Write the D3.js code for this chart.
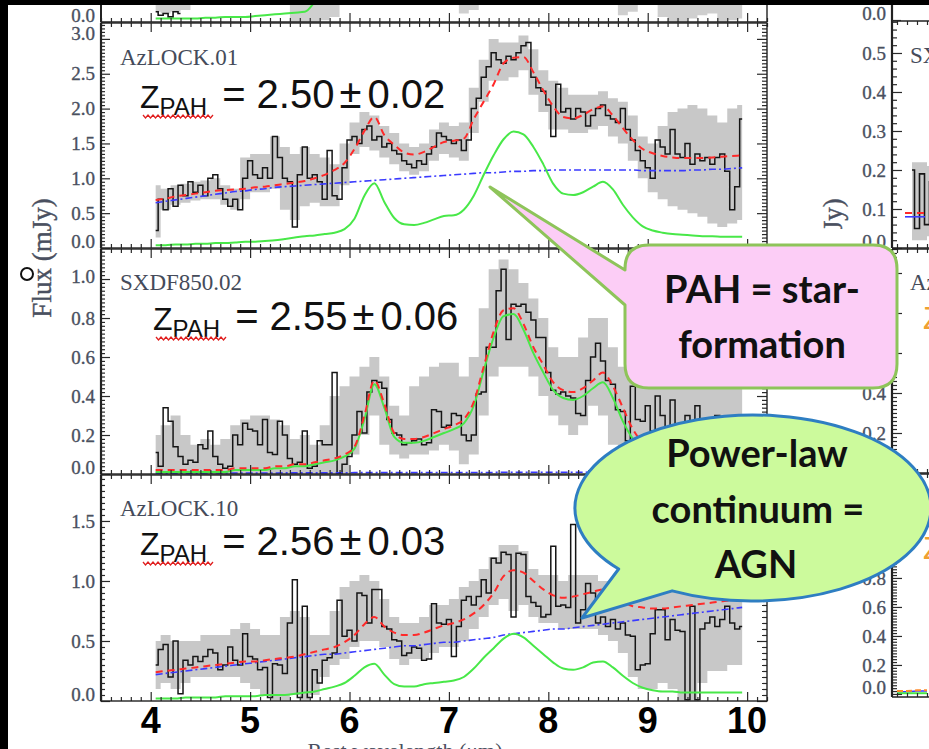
<!DOCTYPE html>
<html><head><meta charset="utf-8">
<script src="https://cdn.jsdelivr.net/npm/d3@7"></script>
<style>
html,body{margin:0;padding:0;background:#000;}
svg{display:block;}
</style></head><body>
<svg id="c" width="929" height="749"></svg>
<script>
// ---------------- DATA ----------------
const xTicks = [4,5,6,7,8,9,10];
const panelNames = ["AzLOCK.01","SXDF850.02","AzLOCK.10"];
const zValues = ["2.50","2.55","2.56"];
const zErrors = ["0.02","0.06","0.03"];
const yTicks1 = [0.0,0.5,1.0,1.5,2.0,2.5,3.0];
const yTicks2 = [0.0,0.2,0.4,0.6,0.8,1.0];
const yTicks3 = [0.0,0.5,1.0,1.5];
const rTicks1 = [0.0,0.1,0.2,0.3,0.4,0.5];
const rTicks2 = [0.0,0.2,0.4,0.6,0.8,1.0];
const rTicks3 = [0.0,0.2,0.4,0.6,0.8,1.0,1.2,1.4];

// observed spectra: bins of 0.05 um starting at 4.05 um
const obsStart = 4.05, obsStep = 0.05;
const obs1 = [0.25,0.7,0.55,0.85,0.6,0.9,0.75,0.95,0.8,0.9,0.75,1.0,1.05,0.85,0.7,0.6,0.7,0.55,1.0,1.25,
1.05,1.0,1.15,1.0,1.6,1.3,1.0,0.95,0.3,1.05,1.45,1.0,1.05,0.95,0.7,1.4,0.75,0.7,1.15,1.55,
1.6,1.5,1.7,1.75,1.55,1.6,1.45,1.5,1.4,1.35,1.25,1.2,1.15,1.25,1.2,1.35,1.45,1.65,1.6,1.55,
1.5,1.55,1.4,1.55,2.0,2.15,2.45,2.6,2.8,2.7,2.65,2.75,2.7,2.8,2.9,2.95,2.45,2.3,2.25,2.05,
1.6,2.35,1.95,2.0,1.85,2.0,1.95,1.75,1.9,2.0,2.05,1.9,1.85,1.8,2.0,1.7,1.55,1.4,1.25,1.15,
1.0,1.55,1.45,1.35,1.7,1.35,1.3,1.5,1.2,1.35,1.25,1.3,1.2,1.3,1.35,1.1,0.55,0.88,1.85];
const obs2 = [0.11,0.04,0.34,0.27,0.14,0.09,0.05,0.07,0.06,0.15,0.13,0.22,0.09,0.05,0.03,0.04,0.2,0.15,0.26,0.23,
0.22,0.15,0.28,0.11,0.1,0.27,0.2,0.08,0.05,0.06,0.22,0.03,0.04,0.17,0.15,0.15,0.52,0.0,0.05,0.09,
0.2,0.32,0.21,0.42,0.48,0.47,0.44,0.28,0.21,0.2,0.15,0.16,0.17,0.18,0.15,0.16,0.33,0.32,0.24,0.25,
0.31,0.3,0.2,0.17,0.2,0.41,0.42,0.65,0.65,0.94,1.05,0.69,0.87,0.86,0.87,0.83,0.79,0.7,0.7,0.52,
0.43,0.41,0.42,0.4,0.39,0.31,0.3,0.48,0.6,0.67,0.58,0.48,0.46,0.33,0.32,0.17,0.45,0.28,0.27,0.35,
0.22,0.4,0.3,0.15,0.38,0.25,0.1,0.3,0.2,0.35,0.15,0.25,0.1,0.3,0.2,0.15,0.28,0.1,0.2];
const obs3 = [0.3,0.43,0.47,0.2,0.5,0.06,0.34,0.3,0.37,0.33,0.37,0.43,0.4,0.26,0.3,0.45,0.34,0.3,0.56,0.37,
0.35,0.26,0.28,0.03,0.31,0.3,0.23,0.65,1.01,0.03,0.79,0.03,0.26,0.15,0.34,0.36,0.4,0.84,0.54,0.59,
0.5,0.9,0.88,0.65,0.93,0.93,0.62,0.6,0.51,0.5,0.38,0.4,0.45,0.44,0.34,0.35,0.81,0.65,0.64,0.68,
0.37,0.62,0.84,0.87,0.8,0.87,1.01,0.9,1.19,1.15,1.24,1.22,0.7,1.23,1.22,0.87,0.82,0.79,0.7,0.72,
1.29,0.79,0.8,0.78,1.47,0.65,0.76,0.98,0.9,0.65,0.7,0.62,0.68,0.6,0.65,0.55,0.54,0.26,0.3,0.31,
0.56,0.76,0.76,0.51,0.68,0.59,0.58,0.01,0.79,0.01,0.6,0.65,0.7,0.62,0.68,0.79,0.65,0.6,0.62];

// model components and error bands: grid of 0.1 um starting at 4.05 um
const modStart = 4.05, modStep = 0.1;
const band1Lo = [0.15,0.55,0.62,0.65,0.68,0.7,0.7,0.62,0.55,0.7,0.8,0.8,0.85,0.55,0.4,0.6,0.65,0.6,0.6,0.9,
1.35,1.45,1.4,1.3,1.2,1.1,1.05,1.1,1.25,1.35,1.3,1.25,1.65,2.1,2.4,2.4,2.45,2.55,2.2,1.95,
1.7,1.7,1.65,1.65,1.7,1.75,1.6,1.5,1.25,1.0,0.8,0.7,0.6,0.55,0.5,0.45,0.35,0.3,0.35,0.4];
const band1Hi = [0.9,0.85,0.9,0.92,0.95,0.97,1.0,0.9,0.85,1.3,1.35,1.35,1.6,1.45,1.35,1.45,1.35,1.3,1.2,1.5,
1.8,1.95,1.9,1.75,1.65,1.5,1.45,1.5,1.7,1.8,1.75,1.8,2.3,2.7,3.0,2.95,2.95,3.05,2.85,2.55,
2.4,2.3,2.2,2.2,2.2,2.25,2.15,2.1,1.9,1.6,1.5,1.75,1.95,2.0,2.05,2.0,1.9,1.8,2.0,2.05];
const model1 = [0.69,0.71,0.74,0.76,0.78,0.8,0.82,0.83,0.84,0.85,0.87,0.88,0.9,0.92,0.94,0.96,1.0,1.05,1.12,1.22,
1.42,1.68,1.88,1.62,1.48,1.37,1.34,1.38,1.45,1.52,1.54,1.57,1.85,2.1,2.35,2.65,2.73,2.74,2.52,2.26,
2.03,1.88,1.86,1.91,1.99,2.03,1.9,1.72,1.55,1.42,1.36,1.32,1.3,1.29,1.29,1.29,1.3,1.31,1.32,1.33];
const cont1 = [0.65,0.67,0.69,0.71,0.73,0.75,0.77,0.79,0.81,0.82,0.84,0.85,0.87,0.88,0.89,0.9,0.91,0.92,0.93,0.94,
0.95,0.96,0.97,0.98,0.99,1.0,1.01,1.02,1.03,1.04,1.05,1.06,1.07,1.08,1.08,1.09,1.1,1.1,1.11,1.11,
1.12,1.12,1.12,1.12,1.12,1.12,1.12,1.12,1.12,1.11,1.11,1.11,1.11,1.11,1.12,1.12,1.13,1.13,1.14,1.15];
const pah1 = [0.04,0.04,0.05,0.05,0.06,0.06,0.07,0.07,0.08,0.09,0.09,0.1,0.11,0.13,0.15,0.17,0.18,0.2,0.22,0.27,
0.42,0.75,0.93,0.66,0.43,0.34,0.33,0.36,0.41,0.46,0.47,0.55,0.75,1.05,1.33,1.56,1.67,1.63,1.45,1.2,
0.92,0.78,0.76,0.8,0.88,0.95,0.84,0.62,0.44,0.31,0.25,0.22,0.2,0.19,0.18,0.17,0.17,0.16,0.16,0.16];

const band2Lo = [0,0,0,0,0,0,0,0,0,0,0,0,0,0,0,0,0,0,0,0,
0.1,0.2,0.3,0.15,0.1,0.08,0.1,0.1,0.12,0.15,0.12,0.05,0.1,0.3,0.5,0.55,0.55,0.55,0.5,0.4,
0.3,0.25,0.2,0.25,0.35,0.3,0.15,0,0,0,0,0,0,0,0,0,0,0,0,0];
const band2Hi = [0.2,0.25,0.3,0.2,0.15,0.18,0.15,0.18,0.25,0.28,0.3,0.3,0.28,0.25,0.18,0.2,0.15,0.25,0.4,0.45,
0.5,0.55,0.6,0.5,0.35,0.3,0.45,0.5,0.55,0.57,0.57,0.5,0.6,0.85,1.05,1.1,1.05,0.98,0.9,0.8,
0.65,0.6,0.6,0.7,0.8,0.8,0.65,0.55,0.6,0.55,0.5,0.55,0.5,0.45,0.5,0.45,0.5,0.45,0.5,0.45];
const model2 = [0.02,0.02,0.02,0.02,0.02,0.02,0.02,0.02,0.03,0.03,0.03,0.03,0.04,0.04,0.05,0.05,0.06,0.07,0.08,0.1,
0.14,0.3,0.48,0.36,0.21,0.18,0.18,0.19,0.21,0.23,0.25,0.28,0.37,0.55,0.73,0.84,0.85,0.77,0.65,0.56,
0.47,0.43,0.42,0.44,0.48,0.52,0.45,0.34,0.23,0.16,0.12,0.09,0.08,0.07,0.06,0.06,0.05,0.05,0.05,0.05];
const cont2 = [0.004,0.004,0.004,0.004,0.004,0.005,0.005,0.005,0.005,0.005,0.005,0.005,0.005,0.006,0.006,0.006,0.006,0.006,0.006,0.006,
0.007,0.007,0.007,0.007,0.007,0.007,0.007,0.008,0.008,0.008,0.008,0.008,0.008,0.008,0.008,0.009,0.009,0.009,0.009,0.009,
0.009,0.009,0.009,0.009,0.01,0.01,0.01,0.01,0.01,0.01,0.01,0.01,0.01,0.01,0.01,0.01,0.01,0.01,0.01,0.01];
const pah2 = [0.01,0.01,0.01,0.01,0.01,0.01,0.01,0.01,0.02,0.02,0.02,0.02,0.03,0.03,0.04,0.04,0.05,0.06,0.07,0.09,
0.13,0.28,0.46,0.34,0.19,0.16,0.16,0.17,0.19,0.21,0.23,0.26,0.35,0.53,0.7,0.81,0.82,0.74,0.62,0.52,
0.43,0.39,0.38,0.4,0.44,0.47,0.39,0.27,0.18,0.12,0.08,0.06,0.05,0.05,0.04,0.04,0.04,0.03,0.03,0.03];

const band3Lo = [0.1,0.15,0.1,0.15,0.2,0.2,0.2,0.2,0.2,0.15,0.1,0.05,0.0,0.0,0.05,0.0,0.05,0.2,0.3,0.35,
0.45,0.5,0.5,0.45,0.35,0.3,0.35,0.35,0.4,0.45,0.45,0.5,0.6,0.7,0.8,0.85,0.75,0.8,0.7,0.65,
0.65,0.6,0.6,0.6,0.6,0.55,0.5,0.4,0.2,0.1,0.1,0.15,0.1,0.0,0.0,0.15,0.25,0.25,0.3,0.3];
const band3Hi = [0.5,0.55,0.5,0.5,0.5,0.55,0.55,0.55,0.6,0.65,0.6,0.55,0.55,0.7,0.75,0.7,0.55,0.55,0.75,0.95,
1.0,1.05,1.0,0.85,0.7,0.65,0.65,0.7,0.8,0.8,0.85,0.95,1.0,1.1,1.2,1.3,1.3,1.25,1.1,1.05,
1.05,1.0,1.05,1.05,1.05,1.0,0.95,0.9,0.9,0.85,0.9,0.95,0.95,0.9,0.9,0.9,0.9,0.9,0.9,0.9];
const model3 = [0.24,0.25,0.26,0.27,0.28,0.29,0.3,0.31,0.32,0.33,0.33,0.34,0.35,0.36,0.37,0.39,0.41,0.43,0.45,0.49,
0.55,0.64,0.7,0.62,0.57,0.55,0.55,0.57,0.6,0.63,0.65,0.68,0.73,0.8,0.9,1.04,1.09,1.07,1.0,0.93,
0.88,0.86,0.87,0.89,0.91,0.93,0.88,0.83,0.79,0.78,0.77,0.77,0.78,0.79,0.8,0.81,0.82,0.83,0.84,0.85];
const cont3 = [0.22,0.23,0.24,0.25,0.26,0.27,0.28,0.29,0.3,0.31,0.32,0.33,0.34,0.35,0.36,0.37,0.38,0.39,0.39,0.4,
0.41,0.42,0.43,0.44,0.45,0.46,0.46,0.47,0.48,0.49,0.49,0.5,0.51,0.52,0.53,0.55,0.56,0.57,0.58,0.59,
0.6,0.6,0.61,0.62,0.63,0.64,0.65,0.66,0.67,0.68,0.69,0.7,0.71,0.72,0.73,0.74,0.75,0.76,0.77,0.78];
const pah3 = [0.02,0.02,0.02,0.03,0.03,0.03,0.03,0.04,0.04,0.04,0.04,0.05,0.05,0.05,0.06,0.07,0.08,0.1,0.12,0.15,
0.21,0.28,0.31,0.22,0.14,0.12,0.12,0.14,0.15,0.16,0.17,0.2,0.27,0.36,0.44,0.52,0.56,0.53,0.46,0.39,
0.32,0.27,0.26,0.28,0.32,0.33,0.28,0.21,0.15,0.11,0.09,0.08,0.08,0.07,0.07,0.07,0.07,0.07,0.07,0.07];

// panel cut off at the top (only its lowest strip is visible)
const topPah = [0.02,0.02,0.02,0.02,0.02,0.025,0.025,0.03,0.03,0.03,0.035,0.04,0.045,0.05,0.055,0.06,0.12];
const topObs = [0.06,0.04,0.05,0.03,0.06,0.05];
const topBandLo = [0.06,0.05,0.06,0.07,0.2,0.2,0.2,0.2,0.2,0.2,0.2,0.2,0.2,0.2,0.0,0.0,0.0,0.01,0.03,0.2,
0.2,0.2,0.2,0.2,0.2,0.2,0.2,0.2,0.2,0.2,0.2,0.05,0.07,0.2,0.2,0.2,0.2,0.2,0.2,0.2,
0.2,0.2,0.2,0.2,0.2,0.2,0.2,0.04,0.06,0.2,0.2,0.03,0.0,0.0,0.02,0.04,0.05,0.0,0.01,0.02];

// right-hand column fragments (neighbouring panels, cut by the frame)
const rTopObs = [0.2,0.05,0.19,0.06,0.17];
const rTopBandLo = [0.02,0.02,0.03];
const rTopBandHi = [0.22,0.22,0.21];
const rTopModel = [0.09,0.09,0.09];
const rTopCont = [0.08,0.08,0.08];
const rBotModel = [0.02,0.02,0.025,0.025];
const rBotCont = [0.015,0.015,0.02,0.02];
const rBotPah = [0.005,0.005,0.005,0.005];

// ---------------- DRAWING ----------------
const W = 929, H = 749;
const svg = d3.select('#c');
const SERIF = "'Liberation Serif','Times New Roman',serif";
const SANS = "'Liberation Sans',Arial,sans-serif";
const LABEL_COL = '#4a5060';
svg.append('rect').attr('x',8).attr('y',5).attr('width',W-8).attr('height',H-5).attr('fill','#fff');

const x = d3.scaleLinear().domain([3.5,10.2]).range([101,767]);
const xMinor = d3.range(35,103,1).map(v=>v/10).filter(v=>!xTicks.includes(v));

const defs = svg.append('defs');
let clipN = 0;
function clip(x0,y0,w,h){
  const id='cl'+(clipN++);
  defs.append('clipPath').attr('id',id).append('rect').attr('x',x0).attr('y',y0).attr('width',w).attr('height',h);
  return `url(#${id})`;
}
const grid = (arr,start,step)=>arr.map((v,i)=>[start+i*step,v]);

function styleAxis(g){
  g.select('.domain').remove();
  g.selectAll('.tick line').attr('stroke','#2a2a2a').attr('stroke-width',1.2);
  g.selectAll('.tick text').attr('font-family',SERIF).attr('font-size',19).attr('fill',LABEL_COL)
    .attr('stroke',LABEL_COL).attr('stroke-width',0.35);
}

const panels = [
  {obs:obs1,bandLo:band1Lo,bandHi:band1Hi,model:model1,cont:cont1,pah:pah1,ticks:yTicks1,minor:0.05,
   top:23,bottom:248,ymax:3.228,zx:140,zy:108,topShift:-5},
  {obs:obs2,bandLo:band2Lo,bandHi:band2Hi,model:model2,cont:cont2,pah:pah2,ticks:yTicks2,minor:0.02,
   top:249,bottom:474,ymax:1.154,zx:153,zy:330,topShift:-3},
  {obs:obs3,bandLo:band3Lo,bandHi:band3Hi,model:model3,cont:cont3,pah:pah3,ticks:yTicks3,minor:0.05,
   top:475,bottom:701,ymax:1.883,zx:140,zy:555,topShift:0}
];

// ---- cut-off panel at top
{
  const yT = d3.scaleLinear().domain([0,1]).range([22,-148]);
  const cp = clip(101,5,666,17);
  const g = svg.append('g').attr('clip-path',cp);
  g.append('path').datum(grid(topBandLo,modStart,modStep))
    .attr('d',d3.area().x(d=>x(d[0])).y0(d=>yT(d[1])).y1(yT(1)).curve(d3.curveStep))
    .attr('fill','#cfcfcf');
  g.append('path').datum(grid(topObs,obsStart,obsStep))
    .attr('d',d3.line().x(d=>x(d[0])).y(d=>yT(d[1])).curve(d3.curveStep))
    .attr('fill','none').attr('stroke','#151515').attr('stroke-width',1.6);
  g.append('path').datum(grid(topPah,modStart,modStep))
    .attr('d',d3.line().x(d=>x(d[0])).y(d=>yT(d[1])).curve(d3.curveMonotoneX))
    .attr('fill','none').attr('stroke','#48e848').attr('stroke-width',2);
  const ax = svg.append('g').attr('transform','translate(0,22)');
  ax.call(d3.axisBottom(x).tickValues(xTicks).tickSize(-9).tickFormat('')).call(styleAxis);
  const ax2 = svg.append('g').attr('transform','translate(0,22)');
  ax2.call(d3.axisBottom(x).tickValues(xMinor).tickSize(-4).tickFormat('')).call(styleAxis);
  svg.append('line').attr('x1',101).attr('x2',767).attr('y1',22).attr('y2',22).attr('stroke','#222').attr('stroke-width',1.4);
  svg.append('line').attr('x1',101).attr('x2',101).attr('y1',5).attr('y2',22).attr('stroke','#222').attr('stroke-width',2);
  svg.append('line').attr('x1',767).attr('x2',767).attr('y1',5).attr('y2',22).attr('stroke','#222').attr('stroke-width',1.4);
  const la = svg.append('g').attr('transform','translate(101,0)');
  la.call(d3.axisLeft(yT).tickValues([0]).tickSize(-9).tickPadding(6).tickFormat(d3.format('.1f'))).call(styleAxis);
  la.selectAll('.tick text').attr('dy','-0.05em');
}

panels.forEach((p,pi)=>{
  const y = d3.scaleLinear().domain([0,p.ymax]).range([p.bottom,p.top]);
  const dg = svg.append('g').attr('clip-path',clip(101,p.top,666,p.bottom-p.top));
  // error band
  const bandData = p.bandLo.map((lo,i)=>[modStart+i*modStep,lo,p.bandHi[i]]);
  dg.append('path').datum(bandData)
    .attr('d',d3.area().x(d=>x(d[0])).y0(d=>y(d[1])).y1(d=>y(d[2])).curve(d3.curveStep))
    .attr('fill','#c8c8c8');
  // observed
  dg.append('path').datum(grid(p.obs,obsStart,obsStep))
    .attr('d',d3.line().x(d=>x(d[0])).y(d=>y(d[1])).curve(d3.curveStep))
    .attr('fill','none').attr('stroke','#151515').attr('stroke-width',1.5);
  const smooth = d3.line().x(d=>x(d[0])).y(d=>y(d[1])).curve(d3.curveMonotoneX);
  dg.append('path').datum(grid(p.cont,modStart,modStep)).attr('d',smooth)
    .attr('fill','none').attr('stroke','#3a3aff').attr('stroke-width',1.6).attr('stroke-dasharray','7,3,2,3');
  dg.append('path').datum(grid(p.pah,modStart,modStep)).attr('d',smooth)
    .attr('fill','none').attr('stroke','#48e848').attr('stroke-width',2);
  dg.append('path').datum(grid(p.model,modStart,modStep)).attr('d',smooth)
    .attr('fill','none').attr('stroke','#ff2a2a').attr('stroke-width',2).attr('stroke-dasharray','7,5');

  // axes
  const minors = d3.range(0, Math.round(p.ymax/p.minor)+1).map(k=>+(k*p.minor).toFixed(3))
      .filter(v=>v<=p.ymax && !p.ticks.some(t=>Math.abs(t-v)<1e-6));
  const topTick = p.ticks[p.ticks.length-1];
  const L = svg.append('g').attr('transform','translate(101,0)');
  L.call(d3.axisLeft(y).tickValues(p.ticks).tickSize(-9).tickPadding(6).tickFormat(d3.format('.1f'))).call(styleAxis);
  L.selectAll('.tick text').attr('dy',d=>d===0?'-0.05em':'0.32em')
    .attr('transform',d=>d===topTick?`translate(0,${p.topShift})`:null);
  svg.append('g').attr('transform','translate(101,0)')
    .call(d3.axisLeft(y).tickValues(minors).tickSize(-4).tickFormat('')).call(styleAxis);
  svg.append('g').attr('transform','translate(767,0)')
    .call(d3.axisRight(y).tickValues(p.ticks).tickSize(-10).tickFormat('')).call(styleAxis);
  svg.append('g').attr('transform','translate(767,0)')
    .call(d3.axisRight(y).tickValues(minors).tickSize(-5).tickFormat('')).call(styleAxis);
  [p.top,p.bottom].forEach((yy,k)=>{
    const mk = k===0 ? d3.axisTop : d3.axisBottom;
    svg.append('g').attr('transform',`translate(0,${yy})`)
      .call(mk(x).tickValues(xTicks).tickSize(-9).tickFormat('')).call(styleAxis);
    svg.append('g').attr('transform',`translate(0,${yy})`)
      .call(mk(x).tickValues(xMinor).tickSize(-4).tickFormat('')).call(styleAxis);
  });
  svg.append('rect').attr('x',101).attr('y',p.top).attr('width',666).attr('height',p.bottom-p.top)
    .attr('fill','none').attr('stroke','#222').attr('stroke-width',1.4);
  svg.append('line').attr('x1',101).attr('x2',101).attr('y1',p.top).attr('y2',p.bottom)
    .attr('stroke','#222').attr('stroke-width',2.2);

  // source name
  svg.append('text').attr('x',120).attr('y',p.top+(pi===0?42:41)).text(panelNames[pi])
    .attr('font-family',SERIF).attr('font-size',23).attr('fill','#454b5a');
  // z_PAH annotation
  const t = svg.append('text').attr('x',p.zx).attr('y',p.zy).attr('font-family',SANS).attr('fill','#111');
  t.append('tspan').attr('font-size',32).text('Z');
  t.append('tspan').attr('font-size',24).attr('dy',7).text('PAH');
  t.append('tspan').attr('font-size',40).attr('dy',-7).attr('dx',15).text('= ' + zValues[pi]);
  t.append('tspan').attr('font-size',40).attr('dx',5).text('\u00B1');
  t.append('tspan').attr('font-size',40).attr('dx',6).text(zErrors[pi]);
  // spell-check squiggle
  let d = `M${p.zx+3},${p.zy+7}`;
  for(let xx=p.zx+3, k=0; xx<p.zx+72; xx+=2.5, k++) d += ` L${xx+2.5},${p.zy+7+(k%2===0?3:0)}`;
  svg.append('path').attr('d',d).attr('fill','none').attr('stroke','#e02020').attr('stroke-width',1.3);
});

// big x tick labels
svg.append('g').selectAll('text').data(xTicks).join('text')
  .attr('x',d=>x(d)).attr('y',733).attr('text-anchor','middle')
  .attr('font-family',SANS).attr('font-weight','bold').attr('font-size',36).attr('fill','#000')
  .text(d=>d);
// x axis title (cut off by the bottom edge, as in the slide)
svg.append('text').attr('x',405).attr('y',758).attr('text-anchor','middle')
  .attr('font-family',SERIF).attr('font-size',22).attr('fill',LABEL_COL).text('Rest wavelength (\u03BCm)');
// y axis titles
function yTitle(cx){
  svg.append('text').attr('transform',`translate(${cx},258) rotate(-90)`).attr('text-anchor','middle')
    .attr('font-family',SERIF).attr('font-size',27).attr('fill',LABEL_COL).attr('stroke',LABEL_COL).attr('stroke-width',0.4)
    .text('Flux (mJy)');
}
yTitle(51);
svg.append('circle').attr('cx',27).attr('cy',274).attr('r',6).attr('fill','none').attr('stroke','#111').attr('stroke-width',2);
yTitle(842);
svg.append('rect').attr('x',810).attr('y',229).attr('width',40).attr('height',18).attr('fill','#fff');

// ---- right-hand column of neighbouring panels
const xr = d3.scaleLinear().domain([3.85,4.22]).range([892,929]);
const rPanels = [
  {top:21,bottom:248,dom:[0,0.582],ticks:rTicks1,minor:0.02},
  {top:249,bottom:473,dom:[0,1.12],ticks:rTicks2,minor:0.02},
  {top:474,bottom:697,dom:[-0.021,1.517],ticks:rTicks3,minor:0.02}
];
rPanels.forEach((p,pi)=>{
  const y = d3.scaleLinear().domain(p.dom).range([p.bottom,p.top]);
  const dg = svg.append('g').attr('clip-path',clip(892,p.top,40,p.bottom-p.top));
  if(pi===0){
    const bd = rTopBandLo.map((lo,i)=>[4.05+i*0.1,lo,rTopBandHi[i]]);
    dg.append('path').datum(bd).attr('d',d3.area().x(d=>xr(d[0])).y0(d=>y(d[1])).y1(d=>y(d[2])).curve(d3.curveStep)).attr('fill','#c8c8c8');
    dg.append('path').datum(grid(rTopObs,4.05,0.05)).attr('d',d3.line().x(d=>xr(d[0])).y(d=>y(d[1])).curve(d3.curveStep)).attr('fill','none').attr('stroke','#151515').attr('stroke-width',1.6);
    dg.append('path').datum(grid(rTopCont,3.98,0.1)).attr('d',d3.line().x(d=>xr(d[0])).y(d=>y(d[1]))).attr('fill','none').attr('stroke','#3a3aff').attr('stroke-width',1.6);
    dg.append('path').datum(grid(rTopModel,3.98,0.1)).attr('d',d3.line().x(d=>xr(d[0])).y(d=>y(d[1]))).attr('fill','none').attr('stroke','#ff2a2a').attr('stroke-width',2).attr('stroke-dasharray','7,5');
  }
  if(pi===2){
    const ln = d3.line().x(d=>xr(d[0])).y(d=>y(d[1]));
    dg.append('path').datum(grid(rBotCont,3.9,0.1)).attr('d',ln).attr('fill','none').attr('stroke','#3a3aff').attr('stroke-width',1.6);
    dg.append('path').datum(grid(rBotPah,3.9,0.1)).attr('d',ln).attr('fill','none').attr('stroke','#48e848').attr('stroke-width',2);
    dg.append('path').datum(grid(rBotModel,3.9,0.1)).attr('d',ln).attr('fill','none').attr('stroke','#ff8a2a').attr('stroke-width',2).attr('stroke-dasharray','6,3');
  }
  const minors = d3.range(0, Math.round(p.dom[1]/p.minor)+1).map(k=>+(k*p.minor).toFixed(3))
      .filter(v=>!p.ticks.some(t=>Math.abs(t-v)<1e-6));
  const L = svg.append('g').attr('transform','translate(892,0)');
  L.call(d3.axisLeft(y).tickValues(p.ticks.filter(v=>v<=p.dom[1])).tickSize(-10).tickPadding(6).tickFormat(d3.format('.1f'))).call(styleAxis);
  L.selectAll('.tick text').attr('dy',d=>d===0?'-0.05em':'0.32em');
  svg.append('g').attr('transform','translate(892,0)')
    .call(d3.axisLeft(y).tickValues(minors).tickSize(-5).tickFormat('')).call(styleAxis);
  [p.top,p.bottom].forEach((yy,k)=>{
    svg.append('g').attr('transform',`translate(0,${yy})`)
      .call((k===0?d3.axisTop:d3.axisBottom)(xr).tickValues([3.9,4.0,4.1,4.2]).tickSize(-4).tickFormat('')).call(styleAxis);
    svg.append('line').attr('x1',892).attr('x2',929).attr('y1',yy).attr('y2',yy).attr('stroke','#222').attr('stroke-width',1.4);
  });
  svg.append('line').attr('x1',892).attr('x2',892).attr('y1',p.top).attr('y2',p.bottom).attr('stroke','#222').attr('stroke-width',2.2);
});
{
  const yT = d3.scaleLinear().domain([0,1]).range([20,-150]);
  svg.append('line').attr('x1',892).attr('x2',892).attr('y1',5).attr('y2',21).attr('stroke','#222').attr('stroke-width',2.2);
  const la = svg.append('g').attr('transform','translate(892,0)');
  la.call(d3.axisLeft(yT).tickValues([0]).tickSize(-9).tickPadding(6).tickFormat(d3.format('.1f'))).call(styleAxis);
  la.selectAll('.tick text').attr('dy','-0.05em');
}
svg.append('text').attr('x',910).attr('y',63).text('SXDF850').attr('font-family',SERIF).attr('font-size',23).attr('fill','#454b5a');
svg.append('text').attr('x',910).attr('y',290).text('AzLOCK').attr('font-family',SERIF).attr('font-size',23).attr('fill','#454b5a');
svg.append('text').attr('x',923).attr('y',329).text('Z').attr('font-family',SANS).attr('font-size',31).attr('fill','#f0a030');
svg.append('text').attr('x',923).attr('y',559).text('Z').attr('font-family',SANS).attr('font-size',31).attr('fill','#f0a030');

// ---- callouts
{
  const x0=625,y0=245,x1=897,y1=388,r=24, tTop=270, tBot=305, tip=[490,187];
  const d = `M${x0+r},${y0} H${x1-r} Q${x1},${y0} ${x1},${y0+r} V${y1-r} Q${x1},${y1} ${x1-r},${y1} H${x0+r} Q${x0},${y1} ${x0},${y1-r} V${tBot} L${tip[0]},${tip[1]} L${x0},${tTop} V${y0+r} Q${x0},${y0} ${x0+r},${y0} Z`;
  svg.append('path').attr('d',d).attr('fill','#fccdf6').attr('stroke','#8ec45a').attr('stroke-width',3).attr('stroke-linejoin','round');
  const tx = svg.append('text').attr('text-anchor','middle').attr('font-family',"Lato,'Open Sans',sans-serif")
    .attr('font-weight','bold').attr('font-size',38).attr('fill','#111');
  tx.append('tspan').attr('x',762).attr('y',303).text('PAH = star-');
  tx.append('tspan').attr('x',762).attr('y',358).text('formation');
}
{
  const cx=753, cy=508, rx=178, ry=93, tip=[582,618];
  const a1 = 139*Math.PI/180, a2 = 117*Math.PI/180;
  const p1=[cx+rx*Math.cos(a1), cy+ry*Math.sin(a1)], p2=[cx+rx*Math.cos(a2), cy+ry*Math.sin(a2)];
  const d = `M${p1[0]},${p1[1]} A${rx},${ry} 0 1 1 ${p2[0]},${p2[1]} L${tip[0]},${tip[1]} Z`;
  svg.append('path').attr('d',d).attr('fill','#ccfa9c').attr('stroke','#2e7ec2').attr('stroke-width',3).attr('stroke-linejoin','round');
  const tx = svg.append('text').attr('text-anchor','middle').attr('font-family',"Lato,'Open Sans',sans-serif")
    .attr('font-weight','bold').attr('font-size',38).attr('fill','#111');
  tx.append('tspan').attr('x',757).attr('y',467).text('Power-law');
  tx.append('tspan').attr('x',758).attr('y',523).text('continuum =');
  tx.append('tspan').attr('x',756).attr('y',578).text('AGN');
}
</script>
</body></html>
